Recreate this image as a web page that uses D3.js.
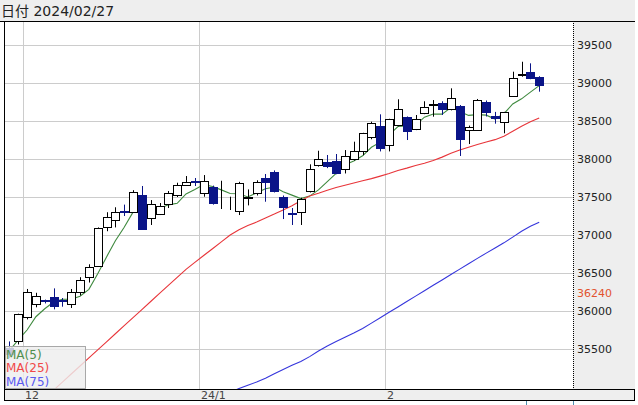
<!DOCTYPE html>
<html>
<head>
<meta charset="utf-8">
<script src="https://cdn.jsdelivr.net/npm/d3@7"></script>
<style>
  body { margin: 0; background: #fff; }
  svg { display: block; }
</style>
</head>
<body>
<div id="chart"></div>
<script>
// daily candles, 2023/11/29 .. 2024/02/27
const dates = ["11/29","11/30","12/01","12/04","12/05","12/06","12/07","12/08","12/11","12/12",
  "12/13","12/14","12/15","12/18","12/19","12/20","12/21","12/22","12/26","12/27",
  "12/28","12/29","01/02","01/03","01/04","01/05","01/08","01/09","01/10","01/11",
  "01/12","01/16","01/17","01/18","01/19","01/22","01/23","01/24","01/25","01/26",
  "01/29","01/30","01/31","02/01","02/02","02/05","02/06","02/07","02/08","02/09",
  "02/12","02/13","02/14","02/15","02/16","02/20","02/21","02/22","02/23","02/26","02/27"];

const opens = [35520,35600,35917,36092,36140,36188,36140,36092,36254,36444,
  36596,37109,37197,37320,37307,37524,37220,37281,37404,37522,
  37662,37711,37557,37628,37430,37455,37320,37490,37549,37746,
  37828,37500,37294,37299,37579,37921,37964,37974,37864,37996,
  38109,38294,38434,38184,38447,38549,38391,38609,38715,38741,
  38658,38697,38382,38382,38754,38570,38483,38833,39110,39141,39083];

const highs = [35600,35965,36290,36240,36150,36298,36171,36290,36445,36615,
  37100,37300,37365,37400,37590,37645,37460,37421,37579,37688,
  37776,37750,37789,37650,37714,37504,37700,37600,37720,37803,
  37850,37520,37355,37490,37930,38109,38053,38066,38118,38228,
  38345,38491,38588,38530,38786,38560,38579,38760,38776,38760,
  38930,38710,38440,38790,38770,38620,38620,39149,39280,39259,39090];

const lows = [35380,35560,35890,36049,36100,36022,36057,36040,36205,36375,
  36580,37050,37100,37250,37290,37070,37132,37263,37355,37500,
  37645,37645,37504,37400,37342,37329,37263,37390,37520,37438,
  37560,37210,37132,37132,37560,37900,37880,37800,37810,37980,
  38050,38260,38100,38100,38430,38250,38380,38590,38557,38580,
  38640,38040,38197,38370,38560,38465,38338,38820,39083,39050,38886];

const closes = [35430,35955,36246,36201,36128,36066,36128,36246,36408,36575,
  37088,37241,37307,37306,37562,37082,37408,37386,37549,37658,
  37702,37693,37711,37425,37440,37461,37680,37500,37698,37701,
  37583,37365,37276,37471,37864,37996,37908,37812,38043,38109,
  38338,38470,38149,38522,38654,38373,38522,38680,38724,38658,
  38799,38263,38425,38776,38622,38543,38615,39062,39118,39062,38974];

const ma5 = [35480,35619,35750,35925,36030,36119,36154,36154,36195,36285,
  36489,36712,36924,37103,37301,37300,37333,37349,37397,37417,
  37541,37598,37663,37638,37594,37546,37543,37501,37556,37608,
  37632,37569,37525,37479,37512,37594,37703,37810,37925,37974,
  38042,38154,38222,38318,38427,38434,38444,38550,38591,38591,
  38677,38625,38574,38584,38577,38526,38596,38724,38792,38880,38966];

const ma25 = [34430,34540,34650,34760,34870,34959,35065,35171,35277,35383,
  35489,35595,35701,35807,35913,36019,36125,36231,36337,36443,
  36549,36640,36730,36820,36910,37000,37070,37125,37170,37225,
  37275,37330,37385,37450,37513,37550,37590,37625,37655,37685,
  37715,37742,37775,37810,37850,37880,37915,37945,37980,38025,
  38075,38120,38155,38190,38225,38255,38300,38365,38430,38490,38540];

const ma75 = [null,null,null,null,null,null,null,null,null,null,
  null,null,null,null,null,null,null,null,null,null,
  34651,34707,34763,34819,34875,34931,34980,35023,35066,35115,
  35175,35232,35285,35335,35400,35475,35541,35598,35656,35711,
  35770,35841,35912,35983,36054,36125,36196,36267,36338,36409,
  36480,36551,36622,36693,36762,36830,36897,36972,37050,37115,37167];

const yTicks = [35500,36000,36500,37000,37500,38000,38500,39000,39500];
const markValue = 36240;
const monthDates = ["12/01","01/02","02/01"];
const monthLabels = ["12","24/1","2"];

const maNames = ["MA(5)","MA(25)","MA(75)"];
const maColors = ["#3f8a3f","#e8353a","#3535dc"];
const maTextColors = ["#4e8f4e","#f04848","#5a5af0"];

const upColor = "#ffffff";
const downColor = "#0a1488";

function drawChart() {
    const width = 638;
    const height = 405;
    const plot = { left: 5, right: 573, top: 21, bottom: 389 };
    const step = 8.83;
    const font = "'DejaVu Sans', 'Noto Sans CJK JP', sans-serif";

    const svg = d3.select("#chart")
        .append("svg")
        .attr("width", width)
        .attr("height", height);

    const x = d3.scaleBand()
        .domain(dates)
        .range([plot.left, plot.left + dates.length * step])
        .paddingInner(0.2)
        .paddingOuter(0.1);

    const y = d3.scaleLinear()
        .domain([34974, 39816])
        .range([plot.bottom, plot.top]);

    const center = d => x(d) + x.bandwidth() / 2;
    const slotLeft = d => x(d) - x.step() * 0.1;

    // header band
    svg.append("rect")
        .attr("x", 0).attr("y", 0)
        .attr("width", 635).attr("height", plot.top)
        .attr("fill", "#eeeeee");
    svg.append("text")
        .attr("x", 1).attr("y", 16)
        .style("font-family", font)
        .style("font-size", "14px")
        .attr("fill", "#222")
        .text("日付 2024/02/27");

    // right axis panel and bottom band
    svg.append("rect")
        .attr("x", plot.right).attr("y", plot.top)
        .attr("width", 635 - plot.right).attr("height", plot.bottom - plot.top)
        .attr("fill", "#eeeeee");
    svg.append("rect")
        .attr("x", 4).attr("y", plot.bottom)
        .attr("width", 631).attr("height", 11)
        .attr("fill", "#eeeeee");

    // grid
    svg.append("g")
        .selectAll("line")
        .data(yTicks)
        .enter()
        .append("line")
        .attr("x1", plot.left).attr("x2", plot.right)
        .attr("y1", d => Math.round(y(d)) + 0.5)
        .attr("y2", d => Math.round(y(d)) + 0.5)
        .attr("stroke", "#cccccc");

    svg.append("g")
        .selectAll("line")
        .data(monthDates)
        .enter()
        .append("line")
        .attr("x1", d => Math.round(slotLeft(d)) + 0.5)
        .attr("x2", d => Math.round(slotLeft(d)) + 0.5)
        .attr("y1", plot.top).attr("y2", plot.bottom)
        .attr("stroke", "#cccccc");

    // moving averages
    svg.append("clipPath")
        .attr("id", "plotclip")
        .append("rect")
        .attr("x", plot.left).attr("y", plot.top)
        .attr("width", plot.right - plot.left)
        .attr("height", plot.bottom - plot.top);

    const lineGen = d3.line()
        .defined(d => d.v != null)
        .x(d => center(d.date))
        .y(d => y(d.v));

    [ma5, ma25, ma75].forEach((series, k) => {
        svg.append("path")
            .attr("clip-path", "url(#plotclip)")
            .attr("d", lineGen(dates.map((date, i) => ({ date: date, v: series[i] }))))
            .attr("fill", "none")
            .attr("stroke", maColors[k])
            .attr("stroke-width", 1.1);
    });

    // candles
    const candles = dates.map((date, i) => ({
        date: date, o: opens[i], h: highs[i], l: lows[i], c: closes[i]
    }));

    const g = svg.append("g").attr("clip-path", "url(#plotclip)");

    g.selectAll(".wick")
        .data(candles)
        .enter()
        .append("line")
        .attr("class", "wick")
        .attr("x1", d => Math.round(center(d.date)) + 0.5)
        .attr("x2", d => Math.round(center(d.date)) + 0.5)
        .attr("y1", d => y(d.h))
        .attr("y2", d => y(d.l))
        .attr("stroke", d => d.c < d.o ? downColor : "#000");

    g.selectAll(".body")
        .data(candles)
        .enter()
        .append("rect")
        .attr("class", "body")
        .attr("x", d => Math.round(center(d.date)) - 3.5)
        .attr("y", d => Math.round(y(Math.max(d.o, d.c))) + 0.5)
        .attr("width", 8)
        .attr("height", d => Math.max(0, Math.round(y(Math.min(d.o, d.c))) - Math.round(y(Math.max(d.o, d.c)))))
        .attr("fill", d => d.c < d.o ? downColor : upColor)
        .attr("stroke", d => d.c < d.o ? downColor : "#000");

    // legend
    svg.append("rect")
        .attr("x", 5.5).attr("y", 346.5)
        .attr("width", 80).attr("height", 42)
        .attr("fill", "#eeeeee")
        .attr("fill-opacity", 0.82)
        .attr("stroke", "#a8a8a8");

    svg.selectAll(".legend")
        .data(maNames)
        .enter()
        .append("text")
        .attr("class", "legend")
        .attr("x", 6)
        .attr("y", (d, i) => 358.5 + i * 13.6)
        .style("font-family", font)
        .style("font-size", "12px")
        .attr("fill", (d, i) => maTextColors[i])
        .text(d => d);

    // right axis labels
    svg.append("g")
        .selectAll("text")
        .data(yTicks)
        .enter()
        .append("text")
        .attr("x", plot.right + 4)
        .attr("y", d => y(d))
        .attr("dy", "0.38em")
        .style("font-family", font)
        .style("font-size", "11px")
        .attr("fill", "#222")
        .text(d => d);

    svg.append("text")
        .attr("x", plot.right + 4)
        .attr("y", y(markValue))
        .attr("dy", "0.38em")
        .style("font-family", font)
        .style("font-size", "11px")
        .attr("fill", "#e2532e")
        .text(markValue);

    // bottom axis labels
    svg.append("g")
        .selectAll("text")
        .data(monthDates)
        .enter()
        .append("text")
        .attr("x", d => Math.round(slotLeft(d)) + 2)
        .attr("y", 398.5)
        .style("font-family", font)
        .style("font-size", "11px")
        .attr("fill", "#444")
        .text((d, i) => monthLabels[i]);

    // frame lines
    const frame = svg.append("g").attr("stroke", "#000").attr("shape-rendering", "crispEdges");
    frame.append("line").attr("x1", 0).attr("x2", 635).attr("y1", 21.5).attr("y2", 21.5);
    frame.append("line").attr("x1", 4.5).attr("x2", 4.5).attr("y1", 21).attr("y2", 400);
    frame.append("line").attr("x1", 4).attr("x2", 635).attr("y1", 389.5).attr("y2", 389.5);
    frame.append("line").attr("x1", 4).attr("x2", 635).attr("y1", 400.5).attr("y2", 400.5);
    frame.append("line").attr("x1", 634.5).attr("x2", 634.5).attr("y1", 389).attr("y2", 401);
    frame.append("line")
        .attr("x1", plot.right + 0.5).attr("x2", plot.right + 0.5)
        .attr("y1", plot.top).attr("y2", plot.bottom)
        .attr("stroke-dasharray", "1,1");

    // small ticks below the frame
    svg.append("g")
        .selectAll("line")
        .data([526, 573])
        .enter()
        .append("line")
        .attr("x1", d => d + 0.5).attr("x2", d => d + 0.5)
        .attr("y1", 401).attr("y2", 405)
        .attr("stroke", "#4f8fb0");
}

document.addEventListener("DOMContentLoaded", function () {
    drawChart();
});
</script>
</body>
</html>
